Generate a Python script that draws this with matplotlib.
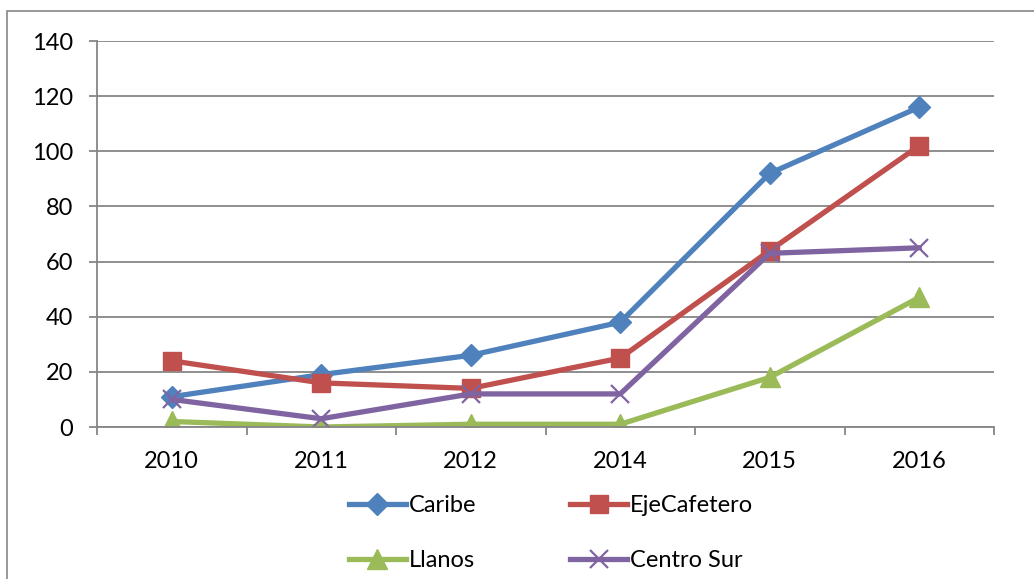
import matplotlib.pyplot as plt
from matplotlib.patches import Rectangle

# Data
years = ['2010', '2011', '2012', '2014', '2015', '2016']
caribe = [11, 19, 26, 38, 92, 116]
eje_cafetero = [24, 16, 14, 25, 64, 102]
llanos = [2, 0, 1, 1, 18, 47]
centro_sur = [10, 3, 12, 12, 63, 65]

plt.rcParams['font.family'] = ['Lato', 'DejaVu Sans']

fig = plt.figure(figsize=(10.34, 5.79), dpi=100)
ax = fig.add_axes([97 / 1034, 1 - 427 / 579, 897 / 1034, 386 / 579])

# Outer chart border (cut off at the right and bottom)
fig.patches.append(Rectangle((7 / 1034, -0.1), 1.2, 1 - 11 / 579 + 0.1,
                             transform=fig.transFigure, fill=False,
                             edgecolor='#868686', linewidth=1.2))

x = list(range(len(years)))
l1, = ax.plot(x, caribe, color='#4F81BD', lw=3.8, marker='D', ms=11, label='Caribe')
l2, = ax.plot(x, eje_cafetero, color='#C0504D', lw=3.8, marker='s', ms=13, label='EjeCafetero')
l3, = ax.plot(x, llanos, color='#9BBB59', lw=3.8, marker='^', ms=14, label='Llanos')
l4, = ax.plot(x, centro_sur, color='#8064A2', lw=3.8, marker='x', ms=13, mew=1.6, label='Centro Sur')

ax.set_xlim(-0.5, len(years) - 0.5)
ax.set_ylim(0, 140)
ax.set_yticks(range(0, 141, 20))
ax.set_xticks(x)
ax.set_xticklabels(years)
ax.set_xticks([i - 0.5 for i in range(len(years) + 1)], minor=True)
ax.yaxis.grid(True, color='#868686', lw=1.3)
ax.set_axisbelow(True)

for s in ['top', 'right']:
    ax.spines[s].set_visible(False)
for s in ['left', 'bottom']:
    ax.spines[s].set_color('#868686')
    ax.spines[s].set_linewidth(1.3)

ax.tick_params(axis='y', length=6, width=1.3, color='#868686', pad=11, labelsize=17)
ax.tick_params(axis='x', which='major', length=0, pad=17, labelsize=17)
ax.tick_params(axis='x', which='minor', length=6, width=1.3, color='#868686')

# column-major fill, so order handles to read row by row
fig.legend([l1, l3, l2, l4], ['Caribe', 'Llanos', 'EjeCafetero', 'Centro Sur'],
           loc='center', bbox_to_anchor=(551 / 1034, 1 - 533 / 579), ncol=2,
           frameon=False, fontsize=17, handlelength=2.4, handletextpad=0.12,
           columnspacing=4.0, labelspacing=1.45, borderpad=0)

fig.savefig('out.png', dpi=100)
